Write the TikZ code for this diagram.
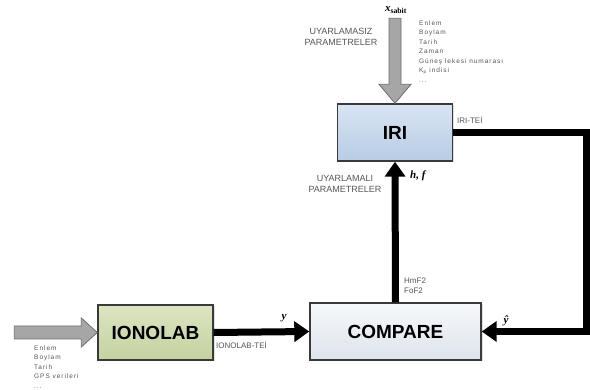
\documentclass[tikz,border=0pt]{standalone}
\usepackage{fontspec}
\setmainfont{Liberation Sans}
\newfontfamily\smallsp[LetterSpace=15]{Liberation Sans}
\newfontfamily\serifb{Liberation Serif}
\usetikzlibrary{arrows.meta,shadows,calc}
\definecolor{boxline}{HTML}{3A3A3A}
\definecolor{txtgray}{HTML}{555555}
\definecolor{arrgray}{HTML}{A6A6A6}
\definecolor{arrline}{HTML}{6E6E6E}
\tikzset{
  blockbox/.style={draw=boxline, line width=1.4pt, font=\bfseries\fontsize{19}{22}\selectfont,
    inner sep=0pt, drop shadow={shadow xshift=1.5pt, shadow yshift=-1.5pt, opacity=0.25}},
  thickline/.style={line width=7pt, line join=miter, -{Triangle[length=15pt,width=20pt]}},
  grayarrow/.style={fill=arrgray, draw=arrline, line width=0.8pt, line join=miter},
  lbl/.style={text=txtgray, font=\fontsize{9}{11}\selectfont, inner sep=0pt, align=center},
  smalllist/.style={text=txtgray, font=\smallsp\fontsize{6.5}{9.5}\selectfont, inner sep=0pt, align=left, anchor=north west},
  mathlbl/.style={font=\serifb\bfseries\itshape\fontsize{11}{12}\selectfont, inner sep=0pt}
}
\begin{document}
\begin{tikzpicture}[x=1pt,y=-1pt]
\useasboundingbox (0,0) rectangle (590,390);
% boxes
\node[blockbox, top color={rgb,255:red,216;green,228;blue,243}, bottom color={rgb,255:red,184;green,204;blue,228}, minimum width=115pt, minimum height=57pt] (iri) at (395,132.5) {IRI};
\node[blockbox, top color={rgb,255:red,220;green,228;blue,194}, bottom color={rgb,255:red,196;green,210;blue,160}, minimum width=115pt, minimum height=55pt] (ionolab) at (155.5,332.5) {IONOLAB};
\node[blockbox, top color={rgb,255:red,246;green,248;blue,250}, bottom color={rgb,255:red,222;green,228;blue,236}, minimum width=171pt, minimum height=57pt] (compare) at (395.5,331.5) {COMPARE};
% thick connectors
\coordinate (fb) at (586,230);
\draw[thickline] (compare.north) -- (iri.south);
\draw[thickline] (iri.east) -| (fb) |- (compare.east);
\draw[thickline] (ionolab.east) -- (compare.west);
% gray input arrows
\coordinate (topin) at ($(iri.north)+(0,-85)$);
\draw[grayarrow] ($(topin)+(-6,0)$) -- ($(topin)+(6,0)$) -- ($(iri.north)+(6,-19)$) -- ($(iri.north)+(16,-19)$)
  -- (iri.north) -- ($(iri.north)+(-16,-19)$) -- ($(iri.north)+(-6,-19)$) -- cycle;
\coordinate (leftin) at ($(ionolab.west)+(-83,0)$);
\draw[grayarrow] ($(leftin)+(0,-6.5)$) -- ($(ionolab.west)+(-16,-6.5)$) -- ($(ionolab.west)+(-16,-14.5)$)
  -- (ionolab.west) -- ($(ionolab.west)+(-16,14.5)$) -- ($(ionolab.west)+(-16,6.5)$) -- ($(leftin)+(0,6.5)$) -- cycle;
% labels
\node[mathlbl] (xs) at (396,10) {x\textsubscript{\upshape sabit}};
\node[lbl] (uyz) at (341,37) {UYARLAMASIZ\\PARAMETRELER};
\node[smalllist] (rlist) at (419,20.5) {Enlem\\Boylam\\Tarih\\Zaman\\Güneş lekesi numarası\\K\textsubscript{p} indisi\\...};
\node[lbl, anchor=west, font=\fontsize{8}{10}\selectfont] (iritei) at (457,120) {IRI-TEİ};
\node[lbl] (uyl) at (345,184) {UYARLAMALI\\PARAMETRELER};
\node[mathlbl, anchor=west] (hf) at (410,176) {h, f};
\node[lbl, anchor=west, font=\fontsize{8}{10}\selectfont, align=left] (hmf) at (404,286) {HmF2\\FoF2};
\node[mathlbl] (ylbl) at (284,318) {y};
\node[mathlbl] (yhat) at (506,321) {ŷ};
\node[lbl, anchor=west, font=\fontsize{8}{10}\selectfont] (iontei) at (216,345) {IONOLAB-TEİ};
\node[smalllist] (llist) at (34,345.5) {Enlem\\Boylam\\Tarih\\GPS verileri\\...};
\end{tikzpicture}
\end{document}
